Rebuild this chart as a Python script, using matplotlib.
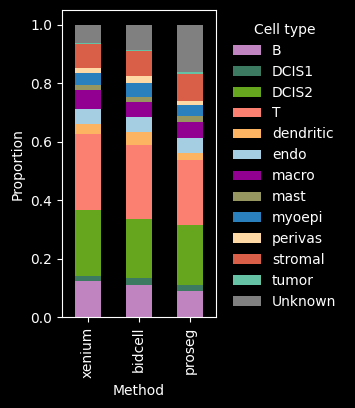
import matplotlib
matplotlib.use("Agg")
import matplotlib.pyplot as plt
import numpy as np

plt.style.use("dark_background")

methods = ["xenium", "bidcell", "proseg"]
cell_types = ["B", "DCIS1", "DCIS2", "T", "dendritic", "endo", "macro", "mast",
              "myoepi", "perivas", "stromal", "tumor", "Unknown"]
colors = ["#c084c0", "#3d7a62", "#66a61e", "#fb8072", "#fdb462", "#a6cee3",
          "#910091", "#969660", "#2a80bd", "#fed9a6", "#d95f49", "#66c2a5", "#808080"]

xenium = [0.123, 0.017, 0.225, 0.260, 0.036, 0.052, 0.065, 0.017, 0.041, 0.017, 0.082, 0.004, 0.061]
bidcell = [0.109, 0.024, 0.201, 0.256, 0.044, 0.052, 0.051, 0.017, 0.048, 0.024, 0.085, 0.004, 0.085]
proseg = [0.089, 0.020, 0.205, 0.222, 0.024, 0.051, 0.058, 0.020, 0.035, 0.014, 0.095, 0.004, 0.163]

data = np.array([xenium, bidcell, proseg])

fig = plt.figure(figsize=(3.55, 4.08), dpi=100)
ax = fig.add_axes([0.175, 0.223, 0.433, 0.752])
x = np.arange(len(methods))
bottom = np.zeros(len(methods))
for i, ct in enumerate(cell_types):
    ax.bar(x, data[:, i], width=0.5, bottom=bottom, color=colors[i], label=ct)
    bottom += data[:, i]

ax.set_xlim(-0.5, 2.5)
ax.set_ylim(0, 1.05)
ax.set_xticks(x)
ax.set_xticklabels(methods, rotation=90)
ax.set_yticks([0.0, 0.2, 0.4, 0.6, 0.8, 1.0])
ax.set_xlabel("Method")
ax.set_ylabel("Proportion")
ax.legend(title="Cell type", frameon=False, loc="upper left",
          bbox_to_anchor=(1.03, 1.0))

fig.savefig("out.png", dpi=100)
